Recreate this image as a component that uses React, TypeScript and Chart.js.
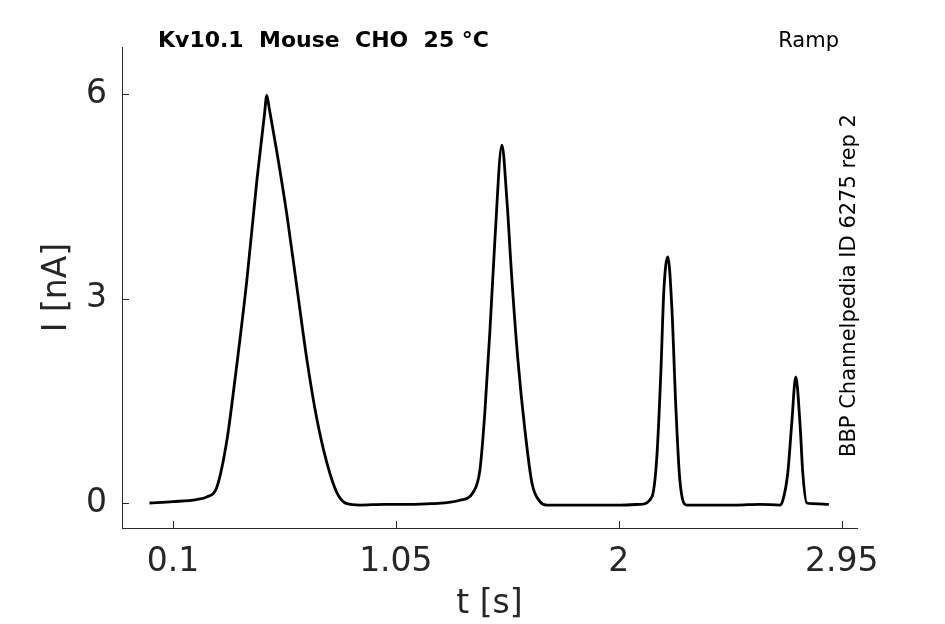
import { useEffect, useRef } from "react";
import { Chart, registerables, ChartConfiguration, Plugin } from "chart.js";

Chart.register(...registerables);

// current trace (t in s, I in nA)
const times = [
  0.0, 0.1, 0.2, 0.245, 0.287, 0.33, 0.364, 0.415, 0.458, 0.49, 0.5, 0.51, 0.543, 0.586, 0.628, 0.671,
  0.714, 0.756, 0.799, 0.841, 0.897, 1.0, 1.1, 1.2, 1.323, 1.378, 1.408, 1.429, 1.451, 1.472, 1.502,
  1.523, 1.544, 1.57, 1.6, 1.63, 1.664, 1.694, 1.8, 1.9, 2.005, 2.09, 2.141, 2.162, 2.179, 2.192,
  2.209, 2.226, 2.243, 2.26, 2.29, 2.4, 2.5, 2.6, 2.686, 2.699, 2.72, 2.737, 2.754, 2.772, 2.784,
  2.801, 2.827, 2.895,
];
const currents = [
  0.0, 0.02, 0.05, 0.09, 0.23, 0.92, 1.8, 3.27, 4.74, 5.7, 5.98, 5.8, 5.15, 4.22, 3.17, 2.1,
  1.22, 0.59, 0.15, -0.01, -0.03, -0.02, -0.02, -0.01, 0.04, 0.15, 0.48, 1.32, 2.54, 3.86, 5.25,
  4.45, 3.3, 2.1, 1.07, 0.29, 0.02, -0.03, -0.03, -0.03, -0.03, -0.02, 0.09, 0.67, 1.9, 3.12,
  3.61, 2.87, 1.41, 0.34, -0.03, -0.03, -0.03, -0.02, -0.03, 0.04, 0.44, 1.17, 1.85, 1.17, 0.44,
  0.0, -0.01, -0.02,
];

const xTicks = [0.1, 1.05, 2, 2.95];
const yTicks = [0, 3, 6];

const titleText = "Kv10.1  Mouse  CHO  25 °C";
const protocolText = "Ramp";
const sideText = "BBP Channelpedia ID 6275 rep 2";

const axisColor = "#262626";
const fontFamily = "'DejaVu Sans', sans-serif";

// inward tick marks + header texts
const decorPlugin: Plugin = {
  id: "decor",
  afterDraw(chart) {
    const ctx = chart.ctx;
    const { left, right, top, bottom } = chart.chartArea;
    const xs = chart.scales.x;
    const ys = chart.scales.y;
    ctx.save();
    ctx.strokeStyle = axisColor;
    ctx.lineWidth = 1;
    ctx.beginPath();
    xTicks.forEach((v) => {
      const px = Math.round(xs.getPixelForValue(v)) + 0.5;
      ctx.moveTo(px, bottom);
      ctx.lineTo(px, bottom - 7);
    });
    yTicks.forEach((v) => {
      const py = Math.round(ys.getPixelForValue(v)) + 0.5;
      ctx.moveTo(left, py);
      ctx.lineTo(left + 7, py);
    });
    ctx.stroke();

    ctx.fillStyle = "#000";
    ctx.textBaseline = "alphabetic";
    ctx.font = `bold 22px ${fontFamily}`;
    ctx.textAlign = "left";
    ctx.fillText(titleText, 158, top);
    ctx.font = `21px ${fontFamily}`;
    ctx.textAlign = "right";
    ctx.fillText(protocolText, right - 18, top);

    ctx.translate(right - 7, (top + bottom) / 2 - 2);
    ctx.rotate(-Math.PI / 2);
    ctx.font = `21px ${fontFamily}`;
    ctx.textAlign = "center";
    ctx.textBaseline = "middle";
    ctx.fillText(sideText, 0, 0);
    ctx.restore();
  },
};

export default function App() {
  const chartRef = useRef<HTMLCanvasElement>(null);
  const chartInstance = useRef<Chart | null>(null);

  useEffect(() => {
    if (!chartRef.current) return;
    if (chartInstance.current) chartInstance.current.destroy();

    const points = times.map((t, i) => ({ x: t, y: currents[i] }));

    const config: ChartConfiguration = {
      type: "line",
      data: {
        datasets: [
          {
            data: points,
            borderColor: "#000",
            borderWidth: 2.8,
            pointRadius: 0,
            fill: false,
            cubicInterpolationMode: "monotone",
          },
        ],
      },
      options: {
        animation: false,
        responsive: true,
        maintainAspectRatio: false,
        layout: { padding: { top: 47, right: 88, left: 0, bottom: 0 } },
        plugins: {
          legend: { display: false },
          tooltip: { enabled: false },
        },
        scales: {
          x: {
            type: "linear",
            min: -0.117,
            max: 3.015,
            afterFit: (scale) => {
              scale.height = 96;
            },
            afterBuildTicks: (scale) => {
              scale.ticks = xTicks.map((v) => ({ value: v }));
            },
            grid: { display: false, drawTicks: false },
            border: { display: true, color: axisColor, width: 1 },
            ticks: {
              color: axisColor,
              padding: 15,
              font: { family: fontFamily, size: 33 },
              maxRotation: 0,
              callback: (v) => String(v),
            },
            title: {
              display: true,
              text: "t [s]",
              color: axisColor,
              font: { family: fontFamily, size: 33 },
              padding: { top: 0, bottom: 0 },
            },
          },
          y: {
            type: "linear",
            min: -0.367,
            max: 6.69,
            afterFit: (scale) => {
              scale.width = 122;
            },
            afterBuildTicks: (scale) => {
              scale.ticks = yTicks.map((v) => ({ value: v }));
            },
            grid: { display: false, drawTicks: false },
            border: { display: true, color: axisColor, width: 1 },
            ticks: {
              color: axisColor,
              padding: 15,
              font: { family: fontFamily, size: 33 },
              callback: (v) => String(v),
            },
            title: {
              display: true,
              text: "I [nA]",
              color: axisColor,
              font: { family: fontFamily, size: 33 },
              padding: { top: 38, bottom: 0 },
            },
          },
        },
      },
      plugins: [decorPlugin],
    };

    chartInstance.current = new Chart(chartRef.current, config);

    return () => {
      if (chartInstance.current) {
        chartInstance.current.destroy();
        chartInstance.current = null;
      }
    };
  }, []);

  return (
    <div style={{ position: "absolute", left: 0, top: 0, width: 945, height: 624, background: "#fff" }}>
      <canvas ref={chartRef}></canvas>
    </div>
  );
}
